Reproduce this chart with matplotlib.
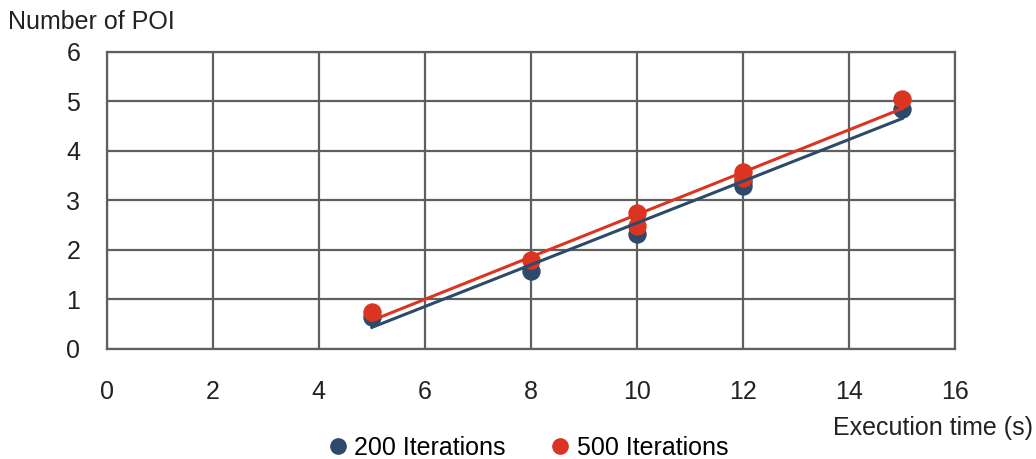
import numpy as np
import matplotlib.pyplot as plt
from matplotlib.lines import Line2D

plt.rcParams['font.family'] = ['Liberation Sans', 'DejaVu Sans']

# measured points (execution time in s, number of POI)
x_200 = [5, 8, 10, 12, 12, 15]
y_200 = [0.65, 1.58, 2.33, 3.30, 3.40, 4.85]
x_500 = [5, 8, 10, 10, 12, 12, 15]
y_500 = [0.75, 1.80, 2.48, 2.75, 3.45, 3.58, 5.05]
labels = ['200 Iterations', '500 Iterations']

blue = '#2D4A6A'
red = '#DB3522'
grid_c = '#5F5F5F'
txt_c = '#222222'
fs = 18

fig = plt.figure(figsize=(10.36, 4.59), dpi=100)
ax = fig.add_axes([0.103, 0.2397, 0.819, 0.6473])

ax.scatter(x_200, y_200, s=150, color=blue, zorder=3)
ax.scatter(x_500, y_500, s=150, color=red, zorder=4)

# linear trend lines
for xs, ys, c in [(x_200, y_200, blue), (x_500, y_500, red)]:
    k, b = np.polyfit(xs, ys, 1)
    xx = np.array([min(xs), max(xs)])
    ax.plot(xx, k * xx + b, color=c, lw=2.2, zorder=5)

ax.set_xlim(0, 16)
ax.set_ylim(0, 6)
ax.set_xticks(range(0, 17, 2))
ax.set_yticks(range(0, 7))
ax.grid(True, color=grid_c, lw=1.6)
ax.set_axisbelow(True)
for s in ax.spines.values():
    s.set_color(grid_c)
    s.set_linewidth(1.6)
ax.tick_params(length=0, labelsize=fs, colors=txt_c)
ax.tick_params(axis='x', pad=22)
ax.tick_params(axis='y', pad=19)

fig.text(8 / 1036, 1 - 22 / 459, 'Number of POI', fontsize=fs, color=txt_c, va='center')
fig.text(1033 / 1036, 1 - 428 / 459, 'Execution time (s)', fontsize=fs, color=txt_c,
         ha='right', va='center')

handles = [Line2D([], [], marker='o', ls='', color=c, markersize=11) for c in (blue, red)]
fig.legend(handles, labels, loc='center', bbox_to_anchor=(0.507, 1 - 448 / 459), ncol=2,
           frameon=False, fontsize=fs, handletextpad=0.05, columnspacing=1.6,
           handlelength=1.2, borderaxespad=0)

fig.savefig('out.png', dpi=100)
